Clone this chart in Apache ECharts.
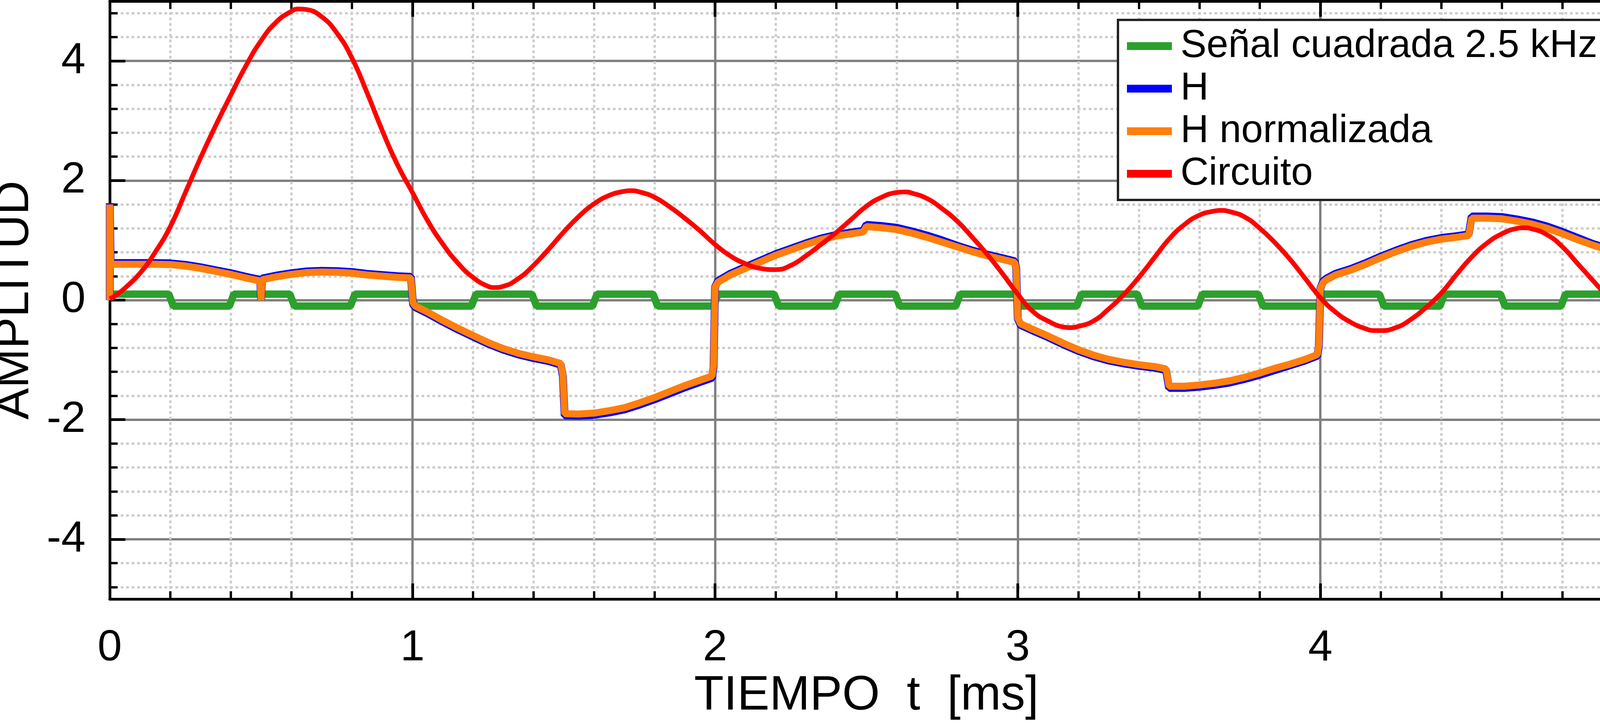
<!DOCTYPE html>
<html>
<head>
<meta charset="utf-8">
<script src="https://cdn.jsdelivr.net/npm/echarts/dist/echarts.min.js"></script>
<style>
html,body{margin:0;padding:0;background:#fff;overflow:hidden;}
#chart{width:4181px;height:1854px;}
</style>
</head>
<body>
<div id="chart"></div>
<script>
// ---------- DATA ----------
const seriesNames = ['Señal cuadrada 2.5 kHz', 'H', 'H normalizada', 'Circuito'];
const xAxisTitle = 'TIEMPO  t  [ms]';
const yAxisTitle = 'AMPLITUD';

// square wave 2.5 kHz
const sqTime = [0, 0.195, 0.21, 0.395, 0.41, 0.595, 0.61, 0.795, 0.81, 0.995, 1.01,
  1.195, 1.21, 1.395, 1.41, 1.595, 1.61, 1.795, 1.81, 1.995, 2.01,
  2.195, 2.21, 2.395, 2.41, 2.595, 2.61, 2.795, 2.81, 2.995, 3.01,
  3.195, 3.21, 3.395, 3.41, 3.595, 3.61, 3.795, 3.81, 3.995, 4.01,
  4.195, 4.21, 4.395, 4.41, 4.595, 4.61, 4.795, 4.81, 5.0];
const sqValues = [0.1, 0.1, -0.1, -0.1, 0.1, 0.1, -0.1, -0.1, 0.1, 0.1, -0.1,
  -0.1, 0.1, 0.1, -0.1, -0.1, 0.1, 0.1, -0.1, -0.1, 0.1,
  0.1, -0.1, -0.1, 0.1, 0.1, -0.1, -0.1, 0.1, 0.1, -0.1,
  -0.1, 0.1, 0.1, -0.1, -0.1, 0.1, 0.1, -0.1, -0.1, 0.1,
  0.1, -0.1, -0.1, 0.1, 0.1, -0.1, -0.1, 0.1, 0.1, 0.1];

// H and H normalizada
const hTime = [0, 0, 0.003, 0.05, 0.1, 0.15, 0.2, 0.25, 0.3, 0.35, 0.4, 0.45, 0.497, 0.5,
  0.503, 0.55, 0.6, 0.65, 0.7, 0.75, 0.8, 0.85, 0.9, 0.95, 0.995,
  1.002, 1.01, 1.05, 1.1, 1.15, 1.2, 1.25, 1.3, 1.35, 1.4, 1.45, 1.49, 1.497,
  1.503, 1.55, 1.6, 1.65, 1.7, 1.75, 1.8, 1.85, 1.9, 1.95, 1.99, 1.995,
  2.0, 2.01, 2.02, 2.05, 2.1, 2.15, 2.2, 2.25, 2.3, 2.35, 2.4, 2.45, 2.49,
  2.5, 2.55, 2.6, 2.65, 2.7, 2.75, 2.8, 2.85, 2.9, 2.95, 2.99, 2.995,
  3.0, 3.01, 3.02, 3.05, 3.1, 3.15, 3.2, 3.25, 3.3, 3.35, 3.4, 3.45, 3.49,
  3.5, 3.55, 3.6, 3.65, 3.7, 3.75, 3.8, 3.85, 3.9, 3.95, 3.99, 3.995,
  4.0, 4.01, 4.02, 4.05, 4.1, 4.15, 4.2, 4.25, 4.3, 4.35, 4.4, 4.45, 4.49,
  4.5, 4.55, 4.6, 4.65, 4.7, 4.75, 4.8, 4.85, 4.9, 4.95, 4.99, 4.995, 5.0];
const hValues = [0, 1.62, 0.62, 0.62, 0.62, 0.62, 0.615, 0.59, 0.55, 0.50, 0.45, 0.39, 0.34, 0.0,
  0.36, 0.41, 0.45, 0.48, 0.49, 0.485, 0.47, 0.44, 0.42, 0.40, 0.39,
  -0.07, -0.12, -0.22, -0.36, -0.49, -0.61, -0.73, -0.83, -0.91, -0.97, -1.02, -1.08, -1.27,
  -1.93, -1.935, -1.92, -1.88, -1.83, -1.75, -1.66, -1.56, -1.46, -1.37, -1.30, -1.12,
  0.22, 0.32, 0.35, 0.44, 0.55, 0.66, 0.77, 0.86, 0.95, 1.03, 1.09, 1.13, 1.16,
  1.26, 1.24, 1.21, 1.15, 1.08, 1.00, 0.91, 0.83, 0.76, 0.70, 0.65, 0.53,
  -0.31, -0.42, -0.44, -0.51, -0.62, -0.74, -0.85, -0.94, -1.01, -1.06, -1.10, -1.13, -1.17,
  -1.47, -1.47, -1.45, -1.42, -1.38, -1.32, -1.25, -1.17, -1.09, -1.01, -0.93, -0.77,
  0.20, 0.32, 0.36, 0.44, 0.52, 0.62, 0.73, 0.83, 0.92, 0.99, 1.04, 1.07, 1.10,
  1.40, 1.40, 1.39, 1.35, 1.30, 1.23, 1.14, 1.04, 0.94, 0.86, 0.80, 0.66, 0.0];
const hNormValues = [0, 1.6, 0.6, 0.60, 0.60, 0.60, 0.595, 0.57, 0.53, 0.48, 0.43, 0.37, 0.32, 0.0,
  0.34, 0.39, 0.43, 0.46, 0.47, 0.465, 0.45, 0.42, 0.40, 0.38, 0.37,
  -0.05, -0.10, -0.20, -0.34, -0.47, -0.59, -0.71, -0.81, -0.89, -0.95, -1.00, -1.06, -1.25,
  -1.90, -1.905, -1.89, -1.85, -1.80, -1.72, -1.63, -1.53, -1.43, -1.34, -1.27, -1.10,
  0.22, 0.30, 0.33, 0.42, 0.53, 0.64, 0.75, 0.84, 0.93, 1.01, 1.07, 1.11, 1.14,
  1.23, 1.21, 1.18, 1.12, 1.05, 0.97, 0.89, 0.81, 0.74, 0.68, 0.63, 0.52,
  -0.30, -0.40, -0.42, -0.49, -0.60, -0.72, -0.83, -0.92, -0.99, -1.04, -1.08, -1.11, -1.15,
  -1.44, -1.44, -1.42, -1.39, -1.35, -1.29, -1.22, -1.14, -1.07, -0.99, -0.91, -0.75,
  0.20, 0.30, 0.34, 0.42, 0.50, 0.60, 0.71, 0.81, 0.90, 0.97, 1.02, 1.05, 1.08,
  1.37, 1.37, 1.36, 1.32, 1.27, 1.20, 1.11, 1.01, 0.92, 0.84, 0.78, 0.65, 0.0];

// Circuito
const circTime = [0, 0.02, 0.05, 0.1, 0.15, 0.2, 0.25, 0.3, 0.35, 0.4, 0.45, 0.5, 0.55, 0.6, 0.625, 0.65,
  0.7, 0.75, 0.8, 0.85, 0.9, 0.95, 1.0, 1.05, 1.1, 1.15, 1.2, 1.25, 1.27, 1.3, 1.35, 1.4, 1.45,
  1.5, 1.55, 1.6, 1.65, 1.7, 1.72, 1.75, 1.8, 1.85, 1.9, 1.95, 2.0, 2.05, 2.1, 2.15, 2.2, 2.25,
  2.3, 2.35, 2.4, 2.45, 2.5, 2.55, 2.6, 2.625, 2.65, 2.7, 2.75, 2.8, 2.85, 2.9, 2.95, 3.0,
  3.05, 3.1, 3.15, 3.17, 3.2, 3.25, 3.3, 3.35, 3.4, 3.45, 3.5, 3.55, 3.6, 3.65, 3.67, 3.7,
  3.75, 3.8, 3.85, 3.9, 3.95, 4.0, 4.05, 4.1, 4.15, 4.18, 4.2, 4.25, 4.3, 4.35, 4.4, 4.45,
  4.5, 4.55, 4.6, 4.65, 4.67, 4.7, 4.75, 4.8, 4.85, 4.9, 4.95, 5.0];
const circValues = [0.02, 0.08, 0.2, 0.45, 0.8, 1.23, 1.8, 2.38, 2.92, 3.43, 3.92, 4.34, 4.65, 4.83, 4.87, 4.86,
  4.74, 4.47, 4.05, 3.47, 2.84, 2.27, 1.80, 1.33, 0.94, 0.62, 0.38, 0.23, 0.21, 0.23, 0.36, 0.58, 0.85,
  1.14, 1.40, 1.61, 1.75, 1.82, 1.83, 1.81, 1.72, 1.56, 1.37, 1.16, 0.93, 0.74, 0.61, 0.53, 0.51, 0.58,
  0.74, 0.93, 1.13, 1.35, 1.57, 1.72, 1.80, 1.81, 1.79, 1.70, 1.53, 1.32, 1.05, 0.76, 0.44, 0.10,
  -0.19, -0.35, -0.45, -0.46, -0.44, -0.35, -0.15, 0.09, 0.38, 0.70, 1.02, 1.26, 1.42, 1.49, 1.50, 1.48,
  1.39, 1.20, 0.96, 0.68, 0.36, 0.04, -0.20, -0.37, -0.48, -0.51, -0.51, -0.46, -0.32, -0.12, 0.12, 0.43,
  0.72, 0.95, 1.11, 1.20, 1.21, 1.19, 1.09, 0.89, 0.61, 0.33, 0.05, -0.23];

// ---------- CHART ----------
const FONT = '"Liberation Sans", Arial, Helvetica, sans-serif';
const pairs = (xs, ys) => xs.map((x, i) => [x, ys[i]]);

const axisLineStyle = { show: true, onZero: false, lineStyle: { color: '#000', width: 7 } };
const tickStyle = { show: true, inside: true, length: 40, lineStyle: { color: '#000', width: 7 } };
const minorTickStyle = { show: true, splitNumber: 5, length: 20, lineStyle: { color: '#000', width: 6 } };
const majorGrid = { show: true, lineStyle: { color: '#808080', width: 6 } };
const minorGrid = { show: true, lineStyle: { color: '#cdcdcd', width: 6, type: [7, 7] } };

const chart = echarts.init(document.getElementById('chart'), null, { renderer: 'canvas' });
chart.setOption({
  backgroundColor: '#fff',
  animation: false,
  textStyle: { fontFamily: FONT },
  grid: { left: 281, right: 26, top: 3, bottom: 320, containLabel: false, outerBoundsMode: 'none' },
  legend: {
    orient: 'vertical', left: 2862, top: 51,
    padding: [17, 21, 17, 23], itemGap: 9, itemWidth: 115, itemHeight: 20,
    icon: 'rect', borderColor: '#222', borderWidth: 6, backgroundColor: '#fff',
    itemStyle: { borderWidth: 0 },
    textStyle: { fontSize: 100, lineHeight: 100, color: '#000', fontFamily: FONT, padding: [0, 0, 0, 17] },
    data: seriesNames
  },
  xAxis: [
    {
      type: 'value', min: 0, max: 5, interval: 1, position: 'bottom',
      name: xAxisTitle, nameLocation: 'middle', nameGap: 186,
      nameTextStyle: { fontSize: 124, color: '#000', fontFamily: FONT },
      axisLine: axisLineStyle, axisTick: tickStyle, minorTick: minorTickStyle,
      axisLabel: { fontSize: 112, color: '#000', margin: 70, fontFamily: FONT },
      splitLine: majorGrid, minorSplitLine: minorGrid
    },
    {
      type: 'value', min: 0, max: 5, interval: 1, position: 'top',
      axisLine: axisLineStyle, axisTick: tickStyle, minorTick: minorTickStyle,
      axisLabel: { show: false }, splitLine: { show: false }
    }
  ],
  yAxis: [
    {
      type: 'value', min: -5, max: 5, splitNumber: 5, position: 'left',
      name: yAxisTitle, nameLocation: 'middle', nameGap: 182,
      nameTextStyle: { fontSize: 121, color: '#000', fontFamily: FONT },
      axisLine: axisLineStyle, axisTick: tickStyle, minorTick: minorTickStyle,
      axisLabel: { fontSize: 112, color: '#000', margin: 62, fontFamily: FONT, showMinLabel: false, showMaxLabel: false },
      splitLine: majorGrid, minorSplitLine: minorGrid
    },
    {
      type: 'value', min: -5, max: 5, splitNumber: 5, position: 'right',
      axisLine: axisLineStyle, axisTick: tickStyle, minorTick: minorTickStyle,
      axisLabel: { show: false }, splitLine: { show: false }
    }
  ],
  series: [
    {
      name: seriesNames[0], type: 'line', data: pairs(sqTime, sqValues),
      symbol: 'none', showSymbol: false, clip: false, z: 3,
      itemStyle: { color: '#2ca02c' },
      lineStyle: { color: '#2ca02c', width: 19, cap: 'butt', join: 'bevel' }
    },
    {
      name: seriesNames[1], type: 'line', data: pairs(hTime, hValues),
      symbol: 'none', showSymbol: false, clip: false, z: 4,
      itemStyle: { color: '#0000ff' },
      lineStyle: { color: '#0000ff', width: 20, cap: 'butt', join: 'bevel' }
    },
    {
      name: seriesNames[2], type: 'line', data: pairs(hTime, hNormValues),
      symbol: 'none', showSymbol: false, clip: false, z: 5,
      itemStyle: { color: '#ff7f0e' },
      lineStyle: { color: '#ff7f0e', width: 18, cap: 'butt', join: 'bevel' }
    },
    {
      name: seriesNames[3], type: 'line', data: pairs(circTime, circValues),
      symbol: 'none', showSymbol: false, clip: false, z: 6, smooth: 0.5,
      itemStyle: { color: '#ff0000' },
      lineStyle: { color: '#ff0000', width: 12, cap: 'butt', join: 'round' }
    }
  ]
});
</script>
</body>
</html>
